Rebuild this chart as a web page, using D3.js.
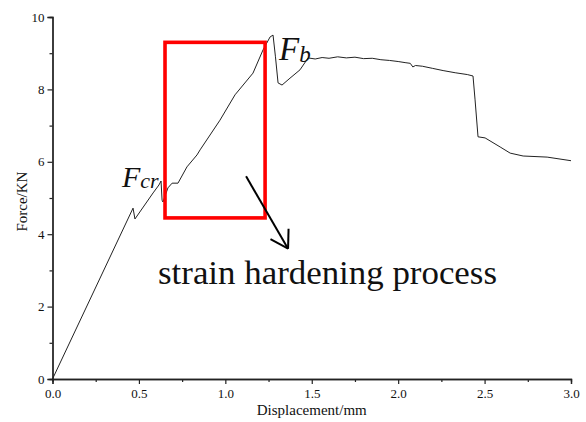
<!DOCTYPE html>
<html>
<head>
<meta charset="UTF-8">
<title>Force vs displacement</title>
<style>
  html, body { margin: 0; background: #fff; }
  svg text { font-family: 'Liberation Serif', 'DejaVu Serif', serif; fill: #111; }
</style>
</head>
<body>
<svg id="chart" width="586" height="422"></svg>
<script src="https://d3js.org/d3.v7.min.js"></script>
<script>
// displacement (mm) and force (kN)
var dispMm = [0, 0.466, 0.477, 0.582, 0.616, 0.628, 0.634, 0.639, 0.668, 0.692, 0.726, 0.778, 0.836, 0.854,
  0.969, 1.056, 1.160, 1.218, 1.259, 1.276, 1.290, 1.305, 1.328, 1.374, 1.432, 1.479,
  1.52, 1.56, 1.60, 1.65, 1.70, 1.75, 1.80, 1.85, 1.90, 1.95, 2.00, 2.04, 2.07, 2.085, 2.10, 2.14, 2.20, 2.26, 2.33, 2.40, 2.433,
  2.445, 2.462, 2.503, 2.590, 2.648, 2.723, 2.862, 3.0];
var forceKN = [0, 4.72, 4.42, 5.14, 5.36, 5.47, 4.94, 4.89, 5.28, 5.41, 5.41, 5.86, 6.19, 6.33,
  7.15, 7.85, 8.45, 9.09, 9.45, 9.50, 8.90, 8.18, 8.12, 8.31, 8.54, 8.87,
  8.84, 8.88, 8.86, 8.90, 8.87, 8.89, 8.85, 8.86, 8.82, 8.80, 8.77, 8.74, 8.72, 8.62, 8.66, 8.64, 8.58, 8.52, 8.46, 8.41, 8.37,
  7.71, 6.69, 6.66, 6.41, 6.24, 6.16, 6.13, 6.03];

var xTicks = [0, 0.5, 1.0, 1.5, 2.0, 2.5, 3.0];
var yTicks = [0, 2, 4, 6, 8, 10];

// annotation anchors, in data units
var boxX = [0.651, 1.230];
var boxY = [4.45, 9.30];
var arrowFrom = [1.120, 5.60];
var arrowTo = [1.363, 3.60];

var svg = d3.select('#chart');
var x = d3.scaleLinear().domain([0, 3]).range([52.5, 571]);
var y = d3.scaleLinear().domain([0, 10]).range([379, 17]);

// minor ticks first
var xMinor = d3.range(0.25, 3, 0.5);
var yMinor = d3.range(1, 10, 2);

var gx = svg.append('g').attr('transform', 'translate(0,' + y(0) + ')');
gx.call(d3.axisBottom(x).tickValues(xMinor).tickSize(3).tickFormat(''));
gx.append('g').call(d3.axisBottom(x).tickValues(xTicks).tickSize(5).tickPadding(5).tickFormat(d3.format('.1f')));

var gy = svg.append('g').attr('transform', 'translate(' + x(0) + ',0)');
gy.call(d3.axisLeft(y).tickValues(yMinor).tickSize(3).tickFormat(''));
gy.append('g').call(d3.axisLeft(y).tickValues(yTicks).tickSize(5).tickPadding(3).tickFormat(d3.format('d')));

svg.selectAll('.domain').attr('stroke', '#222').attr('stroke-width', 1.3);
svg.selectAll('.tick line').attr('stroke', '#222').attr('stroke-width', 1.2);
svg.selectAll('.tick text').attr('font-family', "'Liberation Serif', serif").attr('font-size', 13).attr('fill', '#111');

svg.append('text')
  .attr('x', (x(0) + x(3)) / 2).attr('y', 415)
  .attr('text-anchor', 'middle').attr('font-size', 15)
  .text('Displacement/mm');
svg.append('text')
  .attr('transform', 'translate(27,' + y(4.9) + ') rotate(-90)')
  .attr('text-anchor', 'middle').attr('font-size', 15)
  .text('Force/KN');

// curve
var line = d3.line()
  .x(function(d, i) { return x(dispMm[i]); })
  .y(function(d, i) { return y(forceKN[i]); });
svg.append('path')
  .datum(dispMm)
  .attr('d', line)
  .attr('fill', 'none')
  .attr('stroke', '#222')
  .attr('stroke-width', 1)
  .attr('stroke-linejoin', 'round');

// red box
svg.append('rect')
  .attr('x', x(boxX[0])).attr('y', y(boxY[1]))
  .attr('width', x(boxX[1]) - x(boxX[0]))
  .attr('height', y(boxY[0]) - y(boxY[1]))
  .attr('fill', 'none').attr('stroke', '#ff0000').attr('stroke-width', 3.6);

// arrow
var ax1 = x(arrowFrom[0]), ay1 = y(arrowFrom[1]);
var ax2 = x(arrowTo[0]), ay2 = y(arrowTo[1]);
var ang = Math.atan2(ay2 - ay1, ax2 - ax1);
svg.append('line')
  .attr('x1', ax1).attr('y1', ay1).attr('x2', ax2).attr('y2', ay2)
  .attr('stroke', '#000').attr('stroke-width', 2);
[-0.55, 0.55].forEach(function(da) {
  svg.append('line')
    .attr('x1', ax2).attr('y1', ay2)
    .attr('x2', ax2 - 20 * Math.cos(ang + da))
    .attr('y2', ay2 - 20 * Math.sin(ang + da))
    .attr('stroke', '#000').attr('stroke-width', 2);
});

// labels
var fcr = svg.append('text').attr('x', 122).attr('y', 187).attr('font-style', 'italic');
fcr.append('tspan').attr('font-size', 30).text('F');
fcr.append('tspan').attr('font-size', 22).attr('dy', 1).text('cr');

var fb = svg.append('text').attr('x', 279).attr('y', 60).attr('font-style', 'italic');
fb.append('tspan').attr('font-size', 33).text('F');
fb.append('tspan').attr('font-size', 23).attr('dy', 2).text('b');

svg.append('text')
  .attr('x', 158).attr('y', 284)
  .attr('font-size', 33)
  .attr('textLength', 339)
  .attr('lengthAdjust', 'spacingAndGlyphs')
  .text('strain hardening process');
</script>
</body>
</html>
